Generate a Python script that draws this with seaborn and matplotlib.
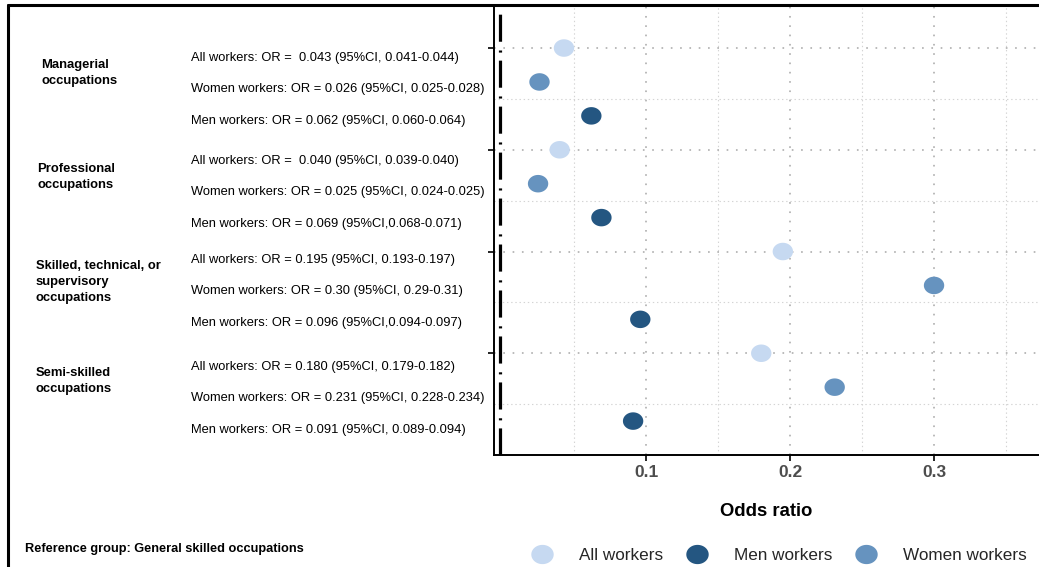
import matplotlib
matplotlib.use("Agg")
import matplotlib.pyplot as plt
from matplotlib.lines import Line2D
from matplotlib.path import Path
import numpy as np
import pandas as pd
import seaborn as sns

# Occupation groups (reference: general skilled occupations)
occupations = ["Managerial", "Professional", "Skilled", "Semi-skilled"]
occupation_labels = [
    "Managerial\noccupations",
    "Professional\noccupations",
    "Skilled, technical, or\nsupervisory\noccupations",
    "Semi-skilled\noccupations",
]
groups = ["All workers", "Women workers", "Men workers"]

# Odds ratios per occupation, in the order All / Women / Men
or_all = [0.043, 0.040, 0.195, 0.180]
or_women = [0.026, 0.025, 0.30, 0.231]
or_men = [0.062, 0.069, 0.096, 0.091]

# Row annotations (point estimate with 95% CI)
row_labels = [
    "All workers: OR =  0.043 (95%CI, 0.041-0.044)",
    "Women workers: OR = 0.026 (95%CI, 0.025-0.028)",
    "Men workers: OR = 0.062 (95%CI, 0.060-0.064)",
    "All workers: OR =  0.040 (95%CI, 0.039-0.040)",
    "Women workers: OR = 0.025 (95%CI, 0.024-0.025)",
    "Men workers: OR = 0.069 (95%CI,0.068-0.071)",
    "All workers: OR = 0.195 (95%CI, 0.193-0.197)",
    "Women workers: OR = 0.30 (95%CI, 0.29-0.31)",
    "Men workers: OR = 0.096 (95%CI,0.094-0.097)",
    "All workers: OR = 0.180 (95%CI, 0.179-0.182)",
    "Women workers: OR = 0.231 (95%CI, 0.228-0.234)",
    "Men workers: OR = 0.091 (95%CI, 0.089-0.094)",
]

x_ticks = [0.1, 0.2, 0.3]
x_tick_labels = ["0.1", "0.2", "0.3"]

palette = {"All workers": "#c6d9f1", "Men workers": "#245681", "Women workers": "#6693bf"}

rows = []
for i, occ in enumerate(occupations):
    for j, (g, vals) in enumerate(zip(groups, [or_all, or_women, or_men])):
        rows.append({"occupation": occ, "group": g, "OR": vals[i], "pos": i + j / 3})
df = pd.DataFrame(rows)

sns.set_theme(style="white")
plt.rcParams["font.family"] = ["Liberation Sans", "DejaVu Sans"]
plt.rcParams["lines.scale_dashes"] = False

W, H = 1039, 567
fig = plt.figure(figsize=(W / 100, H / 100), dpi=100)
ax = fig.add_axes([494 / W, 1 - 455 / H, 1 - 494 / W, (455 - 5) / H])

# slightly flattened dot marker
t = np.linspace(0, 2 * np.pi, 64)
ellipse = Path(np.column_stack([np.cos(t), 0.86 * np.sin(t)]), closed=True)

sns.scatterplot(
    data=df, x="OR", y="pos", hue="group", palette=palette,
    hue_order=["All workers", "Men workers", "Women workers"],
    marker=ellipse, s=215, linewidth=0, ax=ax, zorder=3,
)

# reference line
ax.axvline(-0.0012, color="black", lw=2.3, linestyle=(0, (19.5, 5.8, 1.5, 6.3)), zorder=2)

ax.set_xlim(-0.0056, 0.3729)
ax.set_ylim(4.0, -0.423)
ax.set_xticks(x_ticks)
ax.set_xticklabels(x_tick_labels)
ax.set_xticks([0.05, 0.15, 0.25, 0.35], minor=True)
ax.set_yticks(range(len(occupations)))
ax.set_yticklabels([])
ax.set_yticks([0.5, 1.5, 2.5, 3.5], minor=True)

ax.grid(which="major", color="#b4b4b4", lw=1.3, linestyle=(0, (1.2, 5.5)))
ax.grid(which="minor", color="#d4d4d4", lw=0.8, linestyle=(0, (1, 2)))
ax.set_axisbelow(True)

for side in ["top", "right"]:
    ax.spines[side].set_visible(False)
for side in ["left", "bottom"]:
    ax.spines[side].set_color("black")
    ax.spines[side].set_linewidth(1.4)

ax.tick_params(axis="both", which="major", length=4, width=1.2, color="black",
               direction="out", left=True, bottom=True)
ax.tick_params(axis="both", which="minor", length=0)
ax.tick_params(axis="x", labelsize=12.5, labelcolor="#4d4d4d", pad=3)
for lab in ax.get_xticklabels():
    lab.set_fontweight("bold")

ax.set_xlabel("Odds ratio", fontsize=13.3, fontweight="bold", color="black", labelpad=17)
ax.set_ylabel("")

# legend across the bottom
sns.move_legend(
    ax, "center", bbox_to_anchor=(778 / W, 1 - 555 / H), bbox_transform=fig.transFigure,
    ncol=3, frameon=False, title=None, fontsize=12.3, columnspacing=1.25,
    handlelength=1.5, handletextpad=1.4, markerscale=1.1,
)

# row annotations
row_y = [58, 89, 121, 161, 192, 224, 260, 291, 323, 367, 398, 430]
for txt, y in zip(row_labels, row_y):
    fig.text(191 / W, 1 - y / H, txt, fontsize=9.3, ha="left", va="center", color="black")

# occupation group labels
group_xy = [(41, 66), (37, 170), (36, 267), (36, 374)]
for txt, (x, y) in zip(occupation_labels, group_xy):
    fig.text(x / W, 1 - (y - 7) / H, txt, fontsize=9.4, fontweight="bold",
             ha="left", va="top", linespacing=1.42, color="black")

fig.text(25 / W, 1 - 549 / H, "Reference group: General skilled occupations",
         fontsize=9.2, fontweight="bold", ha="left", va="center", color="black")

# outer frame lines (top and left)
fig.add_artist(Line2D([8 / W, 1], [1 - 5 / H, 1 - 5 / H], transform=fig.transFigure,
                      color="black", lw=2.2))
fig.add_artist(Line2D([8 / W, 8 / W], [1 - 5 / H, 0], transform=fig.transFigure,
                      color="black", lw=2.2))

fig.savefig("out.png", dpi=100)
